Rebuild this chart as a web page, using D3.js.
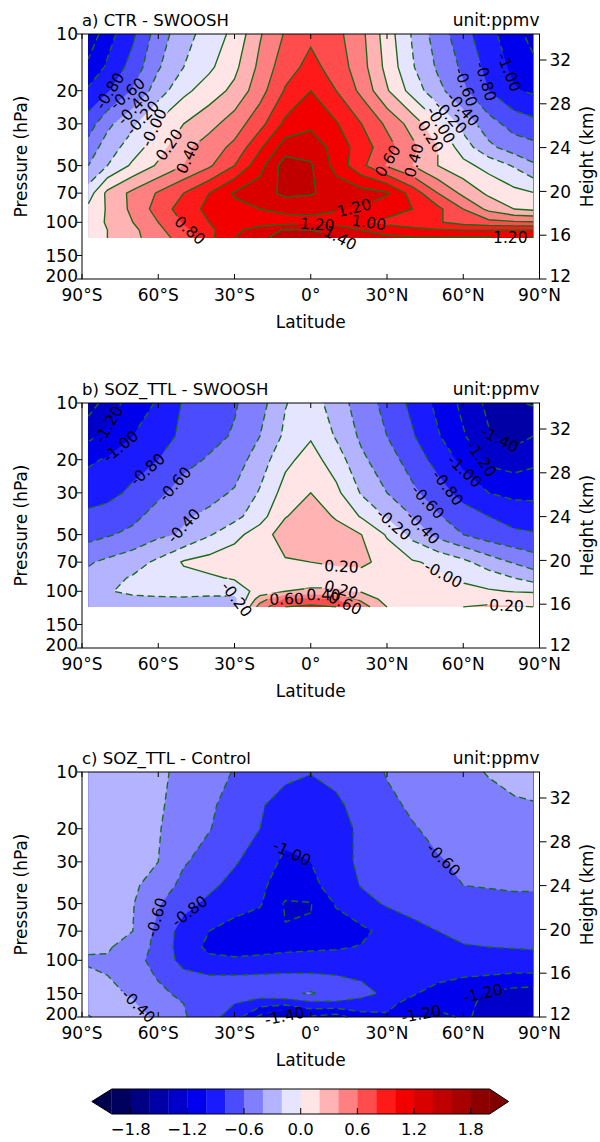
<!DOCTYPE html>
<html>
<head>
<meta charset="utf-8">
<script src="https://cdn.jsdelivr.net/npm/d3@7"></script>
<style>
  body { margin: 0; background: #fff; }
  text { font-family: "DejaVu Sans", sans-serif; fill: #000; }
</style>
</head>
<body>
<svg id="fig" width="600" height="1142"></svg>
<script>
// grid the fields are read on
var lats = [-87.5, -80, -70, -60, -50, -40, -30, -20, -10, 0, 10, 20, 30, 40, 50, 60, 70, 80, 87.5];
var presTTL = [10, 15, 20, 30, 40, 50, 70, 85, 100, 110, 121];
var presFull = [10, 15, 20, 30, 40, 50, 70, 85, 100, 120, 150, 170, 200];

// a) CTR - SWOOSH (ppmv), rows top (10 hPa) to bottom
var ctrMinusSwoosh = [
  [-1.35, -1.08, -0.84, -0.50, -0.28, -0.11, 0.05, 0.38, 0.62, 0.76, 0.66, 0.45, 0.10, -0.22, -0.50, -0.72, -0.95, -1.10, -1.30],
  [-1.15, -0.97, -0.72, -0.42, -0.20, -0.04, 0.15, 0.45, 0.72, 0.86, 0.72, 0.48, 0.14, -0.18, -0.43, -0.64, -0.86, -1.05, -1.13],
  [-0.97, -0.82, -0.58, -0.30, -0.05, 0.10, 0.25, 0.52, 0.82, 1.00, 0.80, 0.55, 0.22, -0.08, -0.34, -0.56, -0.80, -0.98, -1.03],
  [-0.70, -0.45, -0.24, 0.03, 0.20, 0.33, 0.50, 0.73, 1.05, 1.15, 1.02, 0.80, 0.56, 0.32, 0.03, -0.27, -0.52, -0.68, -0.74],
  [-0.52, -0.30, -0.10, 0.12, 0.35, 0.50, 0.65, 0.97, 1.30, 1.33, 1.12, 0.90, 0.68, 0.45, 0.20, -0.10, -0.35, -0.50, -0.54],
  [-0.40, -0.20, 0.04, 0.23, 0.40, 0.57, 0.80, 1.13, 1.50, 1.42, 1.13, 0.85, 0.58, 0.40, 0.20, 0.06, -0.07, -0.22, -0.37],
  [-0.10, 0.25, 0.45, 0.62, 0.80, 1.00, 1.22, 1.30, 1.45, 1.42, 1.32, 1.28, 1.22, 0.92, 0.60, 0.35, 0.16, 0.06, 0.01],
  [0.05, 0.22, 0.45, 0.68, 0.90, 1.05, 1.15, 1.20, 1.25, 1.25, 1.22, 1.18, 1.10, 1.00, 0.85, 0.60, 0.35, 0.20, 0.16],
  [0.10, 0.22, 0.40, 0.60, 0.82, 1.00, 1.08, 1.10, 1.12, 1.15, 1.10, 1.02, 0.95, 0.90, 0.82, 0.72, 0.66, 0.63, 0.62],
  [0.12, 0.20, 0.35, 0.55, 0.75, 0.95, 1.15, 1.30, 1.42, 1.40, 1.35, 1.20, 1.10, 1.05, 1.02, 1.00, 1.00, 1.00, 1.00],
  [0.12, 0.20, 0.35, 0.50, 0.70, 0.95, 1.20, 1.35, 1.50, 1.45, 1.42, 1.30, 1.25, 1.22, 1.22, 1.22, 1.22, 1.22, 1.22]
];

// b) SOZ_TTL - SWOOSH
var sozMinusSwoosh = [
  [-1.50, -1.32, -1.10, -0.98, -0.78, -0.70, -0.62, -0.48, -0.21, -0.10, -0.30, -0.50, -0.66, -0.85, -1.05, -1.25, -1.45, -1.58, -1.62],
  [-1.25, -1.15, -1.00, -0.92, -0.74, -0.66, -0.58, -0.40, -0.16, -0.02, -0.22, -0.44, -0.60, -0.78, -0.98, -1.18, -1.38, -1.48, -1.40],
  [-1.03, -0.98, -0.88, -0.80, -0.66, -0.58, -0.50, -0.30, -0.05, 0.08, -0.10, -0.36, -0.52, -0.68, -0.88, -1.05, -1.25, -1.30, -1.25],
  [-0.90, -0.86, -0.76, -0.64, -0.52, -0.46, -0.38, -0.18, 0.08, 0.20, 0.05, -0.22, -0.40, -0.56, -0.70, -0.88, -1.00, -1.05, -1.05],
  [-0.75, -0.72, -0.65, -0.52, -0.42, -0.36, -0.26, -0.08, 0.19, 0.30, 0.18, -0.02, -0.22, -0.40, -0.58, -0.70, -0.80, -0.88, -0.90],
  [-0.67, -0.62, -0.55, -0.44, -0.38, -0.22, -0.06, 0.10, 0.30, 0.33, 0.28, 0.20, -0.02, -0.26, -0.46, -0.60, -0.70, -0.76, -0.78],
  [-0.42, -0.36, -0.28, -0.16, 0.02, 0.08, 0.12, 0.16, 0.18, 0.20, 0.22, 0.25, 0.12, 0.02, -0.04, -0.15, -0.30, -0.42, -0.50],
  [-0.35, -0.26, -0.18, -0.12, -0.06, -0.03, 0.02, 0.08, 0.12, 0.14, 0.14, 0.10, 0.05, 0.04, 0.03, -0.03, -0.10, -0.20, -0.28],
  [-0.33, -0.22, -0.14, -0.12, -0.12, -0.14, -0.12, 0.08, 0.20, 0.22, 0.22, 0.18, 0.06, 0.05, 0.06, 0.05, 0.02, -0.01, -0.02],
  [-0.30, -0.28, -0.26, -0.24, -0.23, -0.24, -0.25, 0.30, 0.62, 0.65, 0.60, 0.35, 0.12, 0.10, 0.12, 0.14, 0.15, 0.14, 0.12],
  [-0.30, -0.30, -0.28, -0.26, -0.26, -0.25, -0.24, 0.50, 0.80, 0.85, 0.80, 0.50, 0.20, 0.18, 0.18, 0.20, 0.22, 0.21, 0.20]
];

// c) SOZ_TTL - Control
var sozMinusControl = [
  [-0.30, -0.31, -0.33, -0.37, -0.44, -0.53, -0.61, -0.68, -0.75, -0.79, -0.74, -0.67, -0.59, -0.54, -0.49, -0.44, -0.39, -0.35, -0.33],
  [-0.30, -0.32, -0.34, -0.38, -0.46, -0.57, -0.67, -0.78, -0.88, -0.92, -0.84, -0.72, -0.63, -0.58, -0.53, -0.49, -0.45, -0.42, -0.41],
  [-0.30, -0.32, -0.35, -0.39, -0.48, -0.59, -0.70, -0.80, -0.93, -0.97, -0.88, -0.76, -0.67, -0.61, -0.57, -0.53, -0.49, -0.46, -0.45],
  [-0.31, -0.33, -0.36, -0.40, -0.58, -0.68, -0.78, -0.90, -1.04, -1.00, -0.86, -0.77, -0.70, -0.65, -0.61, -0.58, -0.55, -0.53, -0.52],
  [-0.32, -0.34, -0.37, -0.48, -0.66, -0.76, -0.86, -0.96, -1.10, -1.06, -0.90, -0.79, -0.73, -0.68, -0.63, -0.60, -0.59, -0.58, -0.58],
  [-0.33, -0.35, -0.39, -0.58, -0.74, -0.84, -0.92, -0.98, -1.22, -1.21, -0.98, -0.86, -0.78, -0.73, -0.69, -0.67, -0.65, -0.64, -0.64],
  [-0.34, -0.36, -0.40, -0.66, -0.88, -1.00, -1.08, -1.12, -1.19, -1.18, -1.10, -1.04, -0.94, -0.86, -0.80, -0.76, -0.74, -0.73, -0.72],
  [-0.36, -0.38, -0.48, -0.66, -0.90, -1.04, -1.08, -1.06, -1.04, -1.03, -1.02, -0.99, -0.92, -0.87, -0.84, -0.81, -0.80, -0.79, -0.78],
  [-0.43, -0.42, -0.52, -0.68, -0.86, -0.96, -0.97, -0.96, -0.94, -0.93, -0.92, -0.90, -0.88, -0.86, -0.86, -0.86, -0.87, -0.88, -0.88],
  [-0.36, -0.40, -0.50, -0.62, -0.76, -0.80, -0.80, -0.79, -0.78, -0.78, -0.80, -0.83, -0.86, -0.90, -0.94, -0.98, -1.00, -1.02, -1.02],
  [-0.34, -0.36, -0.42, -0.56, -0.64, -0.70, -0.72, -0.70, -0.64, -0.58, -0.68, -0.74, -0.84, -0.98, -1.08, -1.15, -1.22, -1.28, -1.30],
  [-0.32, -0.35, -0.38, -0.52, -0.60, -0.70, -0.80, -0.92, -0.95, -0.86, -0.84, -0.88, -0.96, -1.06, -1.14, -1.16, -1.24, -1.30, -1.32],
  [-0.18, -0.30, -0.36, -0.42, -0.58, -0.72, -0.90, -1.25, -1.45, -1.22, -1.30, -1.08, -1.02, -1.22, -1.25, -1.18, -1.24, -1.30, -1.34]
];

// contour levels and ticks
var levels = d3.range(-10, 11).map(function (k) { return k / 5; });
var latTicks = [-90, -60, -30, 0, 30, 60, 90];
var latTickLabels = ["90°S", "60°S", "30°S", "0°", "30°N", "60°N", "90°N"];
var presTicks = [10, 20, 30, 50, 70, 100, 150, 200];
var heightTicks = [12, 16, 20, 24, 28, 32];
var cbTicks = [-1.8, -1.2, -0.6, 0, 0.6, 1.2, 1.8];

// where the inline contour labels sit: [level, lat, hPa]
var labelsA = [[-0.8, -77, 21], [-0.6, -70, 22.4], [-0.4, -70, 24.4], [-0.2, -64, 29.7], [0, -60.5, 32], [0.2, -56.6, 38],
  [0.4, -46, 46.6], [0.8, -42.8, 97], [1.2, 16.6, 79], [1.0, 22, 100], [1.2, 2.4, 112], [1.4, 15, 112],
  [0.6, 21.5, 40], [0.4, 37, 45.5], [0.2, 42, 38.8], [0, 51, 30.5], [-0.2, 57, 26], [-0.4, 62.8, 23],
  [-0.6, 64, 18.5], [-0.8, 68, 18], [-1.0, 73, 17], [1.2, 78.5, 116]];
var labelsB = [[-1.2, -68, 16.1], [-1.0, -70, 20.4], [-0.8, -64, 22.7], [-0.6, -56.6, 24.7], [-0.4, -56.6, 37],
  [-0.2, -27, 110], [0.2, 12.2, 69], [0.2, 12, 98], [0.6, -9.5, 111], [0.4, 5, 112], [0.6, 14, 112],
  [-0.2, 31.9, 45.4], [-0.4, 43, 47.4], [-0.6, 48.3, 31.4], [-0.8, 58, 25.6], [-1.0, 63.4, 20.9],
  [-1.2, 67.3, 19.7], [-1.4, 72.5, 17.4], [0, 53.5, 75.2], [0.2, 77.1, 115]];
var labelsC = [[-1.0, -6, 24.5], [-0.6, -61, 59], [-0.8, -49, 52], [-0.6, 52, 29.4], [-1.2, 67.4, 144],
  [-1.2, 43, 176], [-0.4, -68, 176], [-1.4, -11, 178]];

var panels = [
  { title: "a) CTR - SWOOSH", field: ctrMinusSwoosh, pres: presTTL, labels: labelsA, top: 34 },
  { title: "b) SOZ_TTL - SWOOSH", field: sozMinusSwoosh, pres: presTTL, labels: labelsB, top: 403 },
  { title: "c) SOZ_TTL - Control", field: sozMinusControl, pres: presFull, labels: labelsC, top: 772 }
];

var svg = d3.select("#fig");
var defs = svg.append("defs");
var plotL = 82, plotR = 539.5, plotH = 245;
var lineColour = "#1b6b1b";
var x = d3.scaleLinear().domain([-90, 90]).range([plotL, plotR]);

// matplotlib "seismic"
var seismic = d3.scaleLinear()
  .domain([0, 0.25, 0.5, 0.75, 1])
  .range(["#00004d", "#0000ff", "#ffffff", "#ff0000", "#800000"]);
function fillColour(v) {
  if (v < -2) return seismic(0);
  if (v >= 2) return seismic(1);
  return seismic((v + 0.1 + 2) / 4);
}
function fmtLevel(v) {
  return Math.abs(v) < 1e-9 ? "-0.00" : v.toFixed(2);
}

panels.forEach(function (pan, k) {
  var top = pan.top, bottom = top + plotH;
  var y = d3.scaleLog().domain([10, 200]).range([top, bottom]);
  var hScale = d3.scaleLinear().domain([12, 12 + plotH / 10.95]).range([bottom, top]);
  var nx = lats.length, ny = pan.pres.length;
  var logP = pan.pres.map(Math.log);
  var flat = [].concat.apply([], pan.field);

  // d3.contours puts value i at i + 0.5; map back onto lat / log-p
  function gridUV(pt) {
    return [Math.max(0, Math.min(nx - 1, pt[0] - 0.5)), Math.max(0, Math.min(ny - 1, pt[1] - 0.5))];
  }
  function uvPixel(uv) {
    var i = Math.min(Math.floor(uv[0]), nx - 2), fu = uv[0] - i;
    var j = Math.min(Math.floor(uv[1]), ny - 2), fv = uv[1] - j;
    var lat = lats[i] + fu * (lats[i + 1] - lats[i]);
    var p = Math.exp(logP[j] + fv * (logP[j + 1] - logP[j]));
    return [x(lat), y(p)];
  }
  function side(uv) {
    var s = 0;
    if (uv[0] <= 1e-9) s |= 1;
    if (uv[0] >= nx - 1 - 1e-9) s |= 2;
    if (uv[1] <= 1e-9) s |= 4;
    if (uv[1] >= ny - 1 - 1e-9) s |= 8;
    return s;
  }

  var contours = d3.contours().size([nx, ny]).thresholds([-99].concat(levels))(flat);

  var g = svg.append("g");

  // filled bands
  g.selectAll("path.band")
    .data(contours).join("path")
      .attr("class", "band")
      .attr("fill-rule", "evenodd")
      .attr("fill", function (c) { return fillColour(c.value); })
      .attr("d", function (c) {
        var s = "";
        c.coordinates.forEach(function (poly) {
          poly.forEach(function (ring) {
            s += "M" + ring.map(function (pt) { return uvPixel(gridUV(pt)).join(","); }).join("L") + "Z";
          });
        });
        return s;
      });

  // contour lines without the data-border pieces
  var lineSets = [];
  contours.slice(1).forEach(function (c) {
    var lines = [];
    c.coordinates.forEach(function (poly) {
      poly.forEach(function (ring) {
        var uvs = ring.map(gridUV);
        var cur = [];
        for (var n = 1; n < uvs.length; n++) {
          var a = uvs[n - 1], b = uvs[n];
          if (side(a) & side(b)) {
            if (cur.length > 1) lines.push(cur);
            cur = [];
          } else {
            if (!cur.length) cur.push(uvPixel(a));
            cur.push(uvPixel(b));
          }
        }
        if (cur.length > 1) lines.push(cur);
      });
    });
    lineSets.push({ value: c.value, lines: lines });
  });

  var maskId = "labmask" + k;
  var mask = defs.append("mask").attr("id", maskId)
    .attr("maskUnits", "userSpaceOnUse")
    .attr("x", 0).attr("y", 0).attr("width", 600).attr("height", 1142);
  mask.append("rect").attr("width", 600).attr("height", 1142).attr("fill", "#fff");

  var lineG = g.append("g").attr("mask", "url(#" + maskId + ")");
  var lineGen = d3.line();
  lineSets.forEach(function (ls) {
    lineG.selectAll(null)
      .data(ls.lines).join("path")
        .attr("d", lineGen)
        .attr("fill", "none")
        .attr("stroke", lineColour)
        .attr("stroke-width", 1.4)
        .attr("stroke-dasharray", ls.value < -1e-9 ? "7,4" : null);
  });

  // inline labels: snap to the nearest point of that level's line
  var labG = g.append("g");
  pan.labels.forEach(function (lb) {
    var set = lineSets.filter(function (ls) { return Math.abs(ls.value - lb[0]) < 1e-6; })[0];
    if (!set || !set.lines.length) return;
    var px = x(lb[1]), py = y(lb[2]);
    var best = null;
    set.lines.forEach(function (ln) {
      for (var n = 1; n < ln.length; n++) {
        var a = ln[n - 1], b = ln[n];
        var dx = b[0] - a[0], dy = b[1] - a[1];
        var L2 = dx * dx + dy * dy || 1;
        var t = Math.max(0, Math.min(1, ((px - a[0]) * dx + (py - a[1]) * dy) / L2));
        var qx = a[0] + t * dx, qy = a[1] + t * dy;
        var d2 = (qx - px) * (qx - px) + (qy - py) * (qy - py);
        if (!best || d2 < best.d2) best = { d2: d2, x: qx, y: qy, ang: Math.atan2(dy, dx) * 180 / Math.PI };
      }
    });
    var ang = best.ang;
    if (ang > 90) ang -= 180;
    if (ang < -90) ang += 180;
    var tr = "translate(" + best.x + "," + best.y + ") rotate(" + ang + ")";
    var t = labG.append("text")
      .attr("transform", tr)
      .attr("text-anchor", "middle")
      .attr("dy", "0.36em")
      .attr("font-size", 15.5)
      .text(fmtLevel(lb[0]));
    var w = t.node().getComputedTextLength() + 4;
    mask.append("rect")
      .attr("transform", tr)
      .attr("x", -w / 2).attr("y", -6).attr("width", w).attr("height", 12)
      .attr("fill", "#000");
  });

  // frame and ticks
  var ax = svg.append("g").attr("stroke", "#000").attr("stroke-width", 1);
  ax.append("rect")
    .attr("x", plotL).attr("y", top).attr("width", plotR - plotL).attr("height", plotH)
    .attr("fill", "none");
  latTicks.forEach(function (v) {
    ax.append("line").attr("x1", x(v)).attr("x2", x(v)).attr("y1", bottom).attr("y2", bottom - 5);
    ax.append("line").attr("x1", x(v)).attr("x2", x(v)).attr("y1", top).attr("y2", top + 5);
  });
  presTicks.forEach(function (v) {
    ax.append("line").attr("x1", plotL).attr("x2", plotL - 5).attr("y1", y(v)).attr("y2", y(v));
  });
  heightTicks.forEach(function (v) {
    ax.append("line").attr("x1", plotR).attr("x2", plotR + 7).attr("y1", hScale(v)).attr("y2", hScale(v));
  });

  var tx = svg.append("g").attr("font-size", 17);
  latTicks.forEach(function (v, i) {
    tx.append("text").attr("x", x(v)).attr("y", bottom + 22)
      .attr("text-anchor", "middle").text(latTickLabels[i]);
  });
  presTicks.forEach(function (v) {
    // the lowest label sits a touch higher so it clears "90°S"
    tx.append("text").attr("x", plotL - 4).attr("y", y(v) - (v === 200 ? 3 : 0)).attr("dy", "0.36em")
      .attr("text-anchor", "end").text(v);
  });
  heightTicks.forEach(function (v) {
    tx.append("text").attr("x", plotR + 10).attr("y", hScale(v) - (v === 12 ? 3 : 0))
      .attr("dy", "0.36em").text(v);
  });
  tx.append("text").attr("x", (plotL + plotR) / 2).attr("y", bottom + 49)
    .attr("text-anchor", "middle").text("Latitude");
  tx.append("text").attr("transform", "translate(27," + (top + plotH / 2) + ") rotate(-90)")
    .attr("text-anchor", "middle").text("Pressure (hPa)");
  tx.append("text").attr("transform", "translate(593," + (top + plotH / 2) + ") rotate(-90)")
    .attr("text-anchor", "middle").text("Height (km)");
  tx.append("text").attr("x", plotL).attr("y", top - 8.5).attr("font-size", 16.5).text(pan.title);
  tx.append("text").attr("x", plotR).attr("y", top - 8.5).attr("text-anchor", "end").text("unit:ppmv");
});

// colour bar with extension triangles
var cbTop = 1089, cbBot = 1114, cbMid = (cbTop + cbBot) / 2;
var cbX = d3.scaleLinear().domain([-2, 2]).range([111.8, 489.6]);
var cb = svg.append("g");
cb.selectAll("rect")
  .data(levels.slice(0, -1)).join("rect")
    .attr("x", function (v) { return cbX(v); })
    .attr("width", cbX(0.2) - cbX(0) + 0.3)
    .attr("y", cbTop).attr("height", cbBot - cbTop)
    .attr("fill", function (v) { return fillColour(v); });
cb.append("path")
  .attr("d", "M" + cbX(-2) + "," + cbTop + "L" + (cbX(-2) - 20) + "," + cbMid + "L" + cbX(-2) + "," + cbBot + "Z")
  .attr("fill", seismic(0));
cb.append("path")
  .attr("d", "M" + cbX(2) + "," + cbTop + "L" + (cbX(2) + 19) + "," + cbMid + "L" + cbX(2) + "," + cbBot + "Z")
  .attr("fill", seismic(1));
cb.append("path")
  .attr("d", "M" + cbX(-2) + "," + cbTop + "L" + cbX(2) + "," + cbTop + "L" + (cbX(2) + 19) + "," + cbMid +
    "L" + cbX(2) + "," + cbBot + "L" + cbX(-2) + "," + cbBot + "L" + (cbX(-2) - 20) + "," + cbMid + "Z")
  .attr("fill", "none").attr("stroke", "#000").attr("stroke-width", 1);
cbTicks.forEach(function (v) {
  cb.append("line").attr("x1", cbX(v)).attr("x2", cbX(v)).attr("y1", cbBot).attr("y2", cbBot - 6)
    .attr("stroke", "#000");
  cb.append("text").attr("x", cbX(v)).attr("y", 1135).attr("text-anchor", "middle")
    .attr("font-size", 16.5)
    .text(v === 0 ? "0.0" : (v < 0 ? "\u2212" : "") + Math.abs(v).toFixed(1));
});
</script>
</body>
</html>
